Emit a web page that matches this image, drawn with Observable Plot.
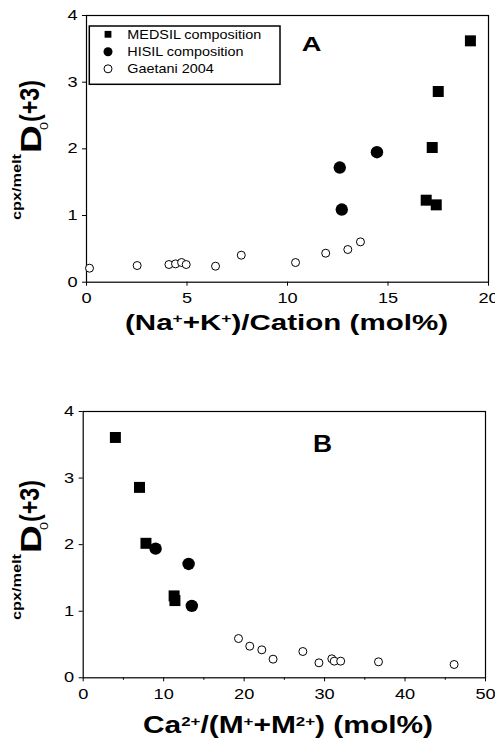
<!DOCTYPE html>
<html><head><meta charset="utf-8">
<script src="https://cdn.jsdelivr.net/npm/d3@7"></script>
<script src="https://cdn.jsdelivr.net/npm/@observablehq/plot@0.6"></script>
<style>body{margin:0;background:#fff;} #chart svg{display:block}</style>
</head><body><div id="chart"></div>
<script>
const seriesNames = ["MEDSIL composition", "HISIL composition", "Gaetani 2004"];
// Panel A: (Na+ + K+)/Cation (mol%)
const medsilA_x = [19.1, 17.5, 17.2, 16.9, 17.4];
const medsilA_y = [3.62, 2.86, 2.02, 1.23, 1.16];
const hisilA_x = [12.6, 12.7, 14.45];
const hisilA_y = [1.72, 1.09, 1.95];
const gaetaniA_x = [0.15, 2.52, 4.1, 4.43, 4.73, 4.96, 6.42, 7.7, 10.4, 11.9, 13.0, 13.63];
const gaetaniA_y = [0.21, 0.25, 0.265, 0.275, 0.295, 0.265, 0.24, 0.405, 0.295, 0.435, 0.49, 0.605];
// Panel B: Ca2+/(M+ + M2+) (mol%)
const medsilB_x = [4.0, 7.0, 7.8, 11.3, 11.4];
const medsilB_y = [3.61, 2.86, 2.02, 1.23, 1.16];
const hisilB_x = [9.0, 13.1, 13.5];
const hisilB_y = [1.94, 1.71, 1.08];
const gaetaniB_x = [19.3, 20.7, 22.2, 23.6, 27.3, 29.3, 30.9, 31.2, 32.0, 36.7, 46.1];
const gaetaniB_y = [0.59, 0.475, 0.42, 0.28, 0.395, 0.225, 0.285, 0.25, 0.25, 0.24, 0.2];
const xTicksA = [0, 5, 10, 15, 20];
const xTicksB = [0, 10, 20, 30, 40, 50];
const xMinorB = [5, 15, 25, 35, 45];
const yTicks = [0, 1, 2, 3, 4];

const FONT = "'Liberation Sans', Arial, Helvetica, sans-serif";
const pts = (xs, ys) => xs.map((x, i) => ({x, y: ys[i]}));
const fmt = d => String(d);

function panel(o) {
  const marks = [
    Plot.axisY({ticks: yTicks, tickFormat: fmt, tickSize: 4, tickPadding: 5, fontSize: 14, label: null}),
    Plot.axisX({ticks: o.xTicks, tickFormat: fmt, tickSize: 4, tickPadding: 7, fontSize: 14, label: null}),
  ];
  if (o.xMinor) marks.push(Plot.axisX({ticks: o.xMinor, tickSize: 2.5, tickFormat: () => "", label: null}));
  marks.push(
    Plot.frame({stroke: "black", strokeWidth: 1.2}),
    Plot.dot(o.gae, {x: "x", y: "y", r: 4, stroke: "black", fill: "white", strokeWidth: 1}),
    Plot.dot(o.med, {x: "x", y: "y", symbol: "square", r: 6.2, fill: "black"}),
    Plot.dot(o.his, {x: "x", y: "y", r: 6.2, fill: "black"})
  );
  const svg = Plot.plot({
    width: 495, height: 370,
    marginLeft: o.ml, marginRight: o.mr, marginTop: o.mt, marginBottom: o.mb,
    x: {domain: o.xDomain, label: null},
    y: {domain: [0, 4], label: null},
    style: {fontFamily: FONT, fontSize: "14px", color: "black", background: "white", overflow: "visible"},
    marks
  });
  const s = d3.select(svg);
  s.selectAll('g[aria-label="x-axis tick label"] text, g[aria-label="y-axis tick label"] text').each(function() {
    const t = this.getAttribute("transform");
    if (t) this.setAttribute("transform", t + " scale(1.3,1)");
    else {
      const x = +this.getAttribute("x") || 0, y = +this.getAttribute("y") || 0;
      this.removeAttribute("x"); this.removeAttribute("y");
      this.setAttribute("transform", `translate(${x},${y}) scale(1.3,1)`);
    }
  });
  return svg;
}

function yLabel(svg, yBottom) {
  const g = d3.select(svg).append("g")
    .attr("transform", `translate(0,${yBottom}) rotate(-90)`)
    .attr("font-family", FONT).attr("fill", "black").attr("text-anchor", "start");
  g.append("text").attr("x", 0).attr("y", 21).attr("font-size", 12.5).attr("font-weight", "bold")
    .attr("textLength", 66).attr("lengthAdjust", "spacingAndGlyphs").text("cpx/melt");
  g.append("text").attr("x", 67).attr("y", 41).attr("font-size", 29).attr("font-weight", "bold")
    .attr("textLength", 28).attr("lengthAdjust", "spacingAndGlyphs").text("D");
  g.append("text").attr("x", 90).attr("y", 47.5).attr("font-size", 11)
    .attr("textLength", 8).attr("lengthAdjust", "spacingAndGlyphs").text("0");
  g.append("text").attr("x", 98).attr("y", 39).attr("font-size", 27).attr("font-weight", "bold")
    .attr("textLength", 42).attr("lengthAdjust", "spacingAndGlyphs").text("(+3)");
}

const chart = document.getElementById("chart");

// ---------- Panel A ----------
const svgA = panel({
  xDomain: [0, 20], xTicks: xTicksA, ml: 86, mr: 7, mt: 15, mb: 88.3,
  med: pts(medsilA_x, medsilA_y), his: pts(hisilA_x, hisilA_y), gae: pts(gaetaniA_x, gaetaniA_y)
});
{
  const s = d3.select(svgA);
  // legend
  const lg = s.append("g").attr("font-family", FONT).attr("text-anchor", "start");
  lg.append("rect").attr("x", 89.3).attr("y", 26).attr("width", 190.7).attr("height", 58.3)
    .attr("fill", "white").attr("stroke", "black").attr("stroke-width", 1.5);
  lg.append("rect").attr("x", 108 - 3.4).attr("y", 34.3 - 3.4).attr("width", 6.8).attr("height", 6.8).attr("fill", "black");
  lg.append("circle").attr("cx", 108).attr("cy", 51.7).attr("r", 4.5).attr("fill", "black");
  lg.append("circle").attr("cx", 108).attr("cy", 68.8).attr("r", 4).attr("fill", "white").attr("stroke", "black");
  [38.6, 56, 72.8].forEach((yy, i) => {
    lg.append("text").attr("transform", `translate(127.3,${yy}) scale(1.2,1)`)
      .attr("font-size", 12).attr("fill", "black").text(seriesNames[i]);
  });
  // panel letter
  s.append("text").attr("transform", "translate(301.7,50.7) scale(1.3,1)").attr("text-anchor", "start")
    .attr("font-family", FONT).attr("font-size", 21).attr("font-weight", "bold").attr("fill", "black").text("A");
  // x label
  const xl = s.append("text").attr("x", 125).attr("y", 330).attr("font-family", FONT).attr("text-anchor", "start")
    .attr("font-size", 22).attr("font-weight", "bold").attr("fill", "black")
    .attr("textLength", 323).attr("lengthAdjust", "spacingAndGlyphs");
  xl.append("tspan").text("(Na");
  xl.append("tspan").attr("baseline-shift", "super").attr("font-size", 13).text("+");
  xl.append("tspan").text("+K");
  xl.append("tspan").attr("baseline-shift", "super").attr("font-size", 13).text("+");
  xl.append("tspan").text(")/Cation (mol%)");
  yLabel(svgA, 220);
}
chart.appendChild(svgA);

// ---------- Panel B ----------
const svgB = panel({
  xDomain: [0, 50], xTicks: xTicksB, xMinor: xMinorB, ml: 82.7, mr: 10, mt: 41, mb: 62.7,
  med: pts(medsilB_x, medsilB_y), his: pts(hisilB_x, hisilB_y), gae: pts(gaetaniB_x, gaetaniB_y)
});
{
  const s = d3.select(svgB);
  s.append("text").attr("transform", "translate(313,81.7) scale(1.1,1)").attr("text-anchor", "start")
    .attr("font-family", FONT).attr("font-size", 24).attr("font-weight", "bold").attr("fill", "black").text("B");
  const xl = s.append("text").attr("x", 143).attr("y", 363).attr("font-family", FONT).attr("text-anchor", "start")
    .attr("font-size", 23).attr("font-weight", "bold").attr("fill", "black")
    .attr("textLength", 290).attr("lengthAdjust", "spacingAndGlyphs");
  xl.append("tspan").text("Ca");
  xl.append("tspan").attr("baseline-shift", "super").attr("font-size", 13).text("2+");
  xl.append("tspan").text("/(M");
  xl.append("tspan").attr("baseline-shift", "super").attr("font-size", 13).text("+");
  xl.append("tspan").text("+M");
  xl.append("tspan").attr("baseline-shift", "super").attr("font-size", 13).text("2+");
  xl.append("tspan").text(") (mol%)");
  yLabel(svgB, 250);
}
chart.appendChild(svgB);
</script>
</body></html>
